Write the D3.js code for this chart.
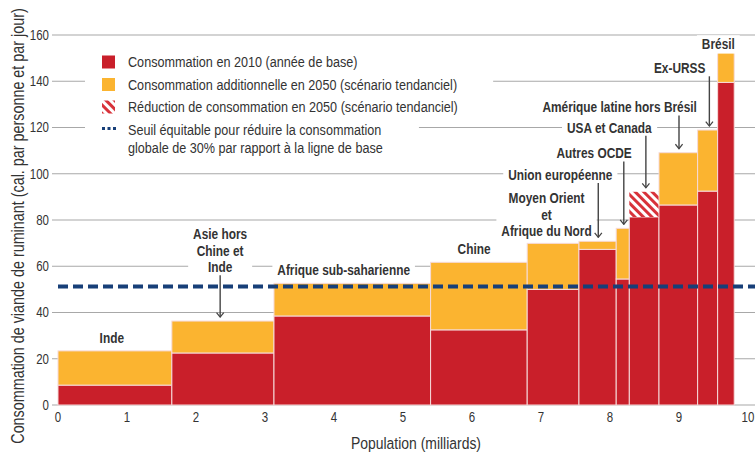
<!DOCTYPE html>
<html>
<head>
<meta charset="utf-8">
<script src="https://cdn.jsdelivr.net/npm/d3@7"></script>
<style>
  body { margin: 0; background: #fff; }
  svg { display: block; font-family: "Liberation Sans", Arial, sans-serif; }
</style>
</head>
<body>
<div id="chart"></div>
<script>
// data
const regions = ["Inde", "Asie hors Chine et Inde", "Afrique sub-saharienne", "Chine",
    "Moyen Orient et Afrique du Nord", "Union européenne", "Autres OCDE", "USA et Canada",
    "Amérique latine hors Brésil", "Ex-URSS", "Brésil"];
const population = [1.65, 1.48, 2.27, 1.40, 0.75, 0.54, 0.19, 0.43, 0.56, 0.29, 0.24];
const consumption2010 = [8.6, 22.5, 38.5, 32.5, 50, 67.3, 54.5, 92.2, 86.5, 92.5, 139.5];
const consumption2050 = [23.4, 36.3, 52.6, 61.7, 69.9, 70.8, 76.4, 81.3, 109.1, 118.9, 152.8];
const threshold = 51.2;
const yTicks = [0, 20, 40, 60, 80, 100, 120, 140, 160];
const xTicks = [0, 1, 2, 3, 4, 5, 6, 7, 8, 9, 10];

const legendItems = [
    { type: "base", text: ["Consommation en 2010 (année de base)"] },
    { type: "add", text: ["Consommation additionnelle en 2050 (scénario tendanciel)"] },
    { type: "cut", text: ["Réduction de consommation en 2050 (scénario tendanciel)"] },
    { type: "seuil", text: ["Seuil équitable pour réduire la consommation", "globale de 30% par rapport à la ligne de base"] }
];

// label placement (data units), arrow x when there is one
const labels = [
    { lines: ["Inde"], x: 0.78, y: 29 },
    { lines: ["Asie hors", "Chine et", "Inde"], x: 2.35, y: 73.8, arrow: 2.35, bar: 1 },
    { lines: ["Afrique sub-saharienne"], x: 4.14, y: 58.4 },
    { lines: ["Chine"], x: 6.03, y: 67.3 },
    { lines: ["Moyen Orient", "et", "Afrique du Nord"], x: 7.08, y: 89.4 },
    { lines: ["Union européenne"], x: 7.28, y: 99.5, arrow: 7.83, bar: 5 },
    { lines: ["Autres OCDE"], x: 7.77, y: 108.8, arrow: 8.2, bar: 6 },
    { lines: ["USA et Canada"], x: 7.99, y: 119.9, arrow: 8.52, bar: 7 },
    { lines: ["Amérique latine hors Brésil"], x: 8.14, y: 128.7, arrow: 9.0, bar: 8 },
    { lines: ["Ex-URSS"], x: 9.01, y: 145.6, arrow: 9.44, bar: 9 },
    { lines: ["Brésil"], x: 9.57, y: 156 }
];

const width = 755, height = 455;
const red = "#c91f2a", yellow = "#fbb430", navy = "#173f78", grid = "#a8a8a8", ink = "#333";
const narrow = 0.82; // no narrow font installed, squeeze horizontally

const x = d3.scaleLinear().domain([0, 10]).range([58, 748]);
const y = d3.scaleLinear().domain([0, 160]).range([405, 35]);

const squeeze = cx => `translate(${cx},0) scale(${narrow},1) translate(${-cx},0)`;

const ends = d3.cumsum(population);
const bars = regions.map((name, i) => ({
    name,
    x0: ends[i] - population[i],
    x1: ends[i],
    base: Math.min(consumption2010[i], consumption2050[i]),
    c2010: consumption2010[i],
    c2050: consumption2050[i]
}));

const svg = d3.select("#chart").append("svg")
    .attr("width", width)
    .attr("height", height);

const defs = svg.append("defs");
const hatch = defs.append("pattern")
    .attr("id", "hatch")
    .attr("patternUnits", "userSpaceOnUse")
    .attr("width", 6)
    .attr("height", 6)
    .attr("patternTransform", "rotate(-45)");
hatch.append("rect").attr("width", 6).attr("height", 6).attr("fill", "#fff");
hatch.append("rect").attr("width", 3).attr("height", 6).attr("fill", "#d8323a");

defs.append("marker")
    .attr("id", "head")
    .attr("viewBox", "0 0 10 10")
    .attr("refX", 5).attr("refY", 9)
    .attr("markerWidth", 9).attr("markerHeight", 9)
    .attr("markerUnits", "userSpaceOnUse")
    .attr("orient", "0")
    .append("path")
    .attr("d", "M1,4 L5,9 L9,4")
    .attr("fill", "none")
    .attr("stroke", "#444")
    .attr("stroke-width", 1.4);

// grid + y ticks
svg.append("g")
    .selectAll("line")
    .data(yTicks)
    .join("line")
    .attr("x1", 52).attr("x2", width)
    .attr("y1", d => y(d)).attr("y2", d => y(d))
    .attr("stroke", grid)
    .attr("stroke-width", 1.2);

svg.append("g")
    .attr("font-size", 14)
    .attr("fill", ink)
    .attr("text-anchor", "end")
    .selectAll("text")
    .data(yTicks)
    .join("text")
    .attr("x", 49)
    .attr("y", d => y(d))
    .attr("dy", "0.35em")
    .attr("transform", squeeze(49))
    .text(d => d);

svg.append("g")
    .attr("font-size", 14)
    .attr("fill", ink)
    .attr("text-anchor", "middle")
    .selectAll("text")
    .data(xTicks)
    .join("text")
    .attr("x", d => x(d))
    .attr("y", 422)
    .attr("transform", d => squeeze(x(d)))
    .text(d => d);

svg.append("text")
    .attr("x", 416)
    .attr("y", 449)
    .attr("text-anchor", "middle")
    .attr("font-size", 17)
    .attr("fill", ink)
    .attr("transform", squeeze(416))
    .text("Population (milliards)");

svg.append("text")
    .attr("transform", `translate(24,226) rotate(-90) scale(${narrow},1)`)
    .attr("text-anchor", "middle")
    .attr("font-size", 17.5)
    .attr("fill", ink)
    .text("Consommation de viande de ruminant (cal. par personne et par jour)");

// bars
const bar = svg.append("g")
    .attr("stroke", "#f6dada")
    .attr("stroke-width", 1)
    .selectAll("g")
    .data(bars)
    .join("g");

bar.append("rect")
    .attr("x", d => x(d.x0))
    .attr("width", d => x(d.x1) - x(d.x0))
    .attr("y", d => y(d.base))
    .attr("height", d => y(0) - y(d.base))
    .attr("fill", red);

bar.filter(d => d.c2050 > d.c2010).append("rect")
    .attr("x", d => x(d.x0))
    .attr("width", d => x(d.x1) - x(d.x0))
    .attr("y", d => y(d.c2050))
    .attr("height", d => y(d.c2010) - y(d.c2050))
    .attr("fill", yellow);

bar.filter(d => d.c2050 < d.c2010).append("rect")
    .attr("x", d => x(d.x0))
    .attr("width", d => x(d.x1) - x(d.x0))
    .attr("y", d => y(d.c2010))
    .attr("height", d => y(d.c2050) - y(d.c2010))
    .attr("fill", "url(#hatch)")
    .attr("stroke", "none");

// threshold
svg.append("line")
    .attr("x1", x(0)).attr("x2", width)
    .attr("y1", y(threshold)).attr("y2", y(threshold))
    .attr("stroke", navy)
    .attr("stroke-width", 4)
    .attr("stroke-dasharray", "10,5");

// region labels
const label = svg.append("g")
    .selectAll("g")
    .data(labels)
    .join("g")
    .attr("transform", d => squeeze(x(d.x)));

label.append("rect").attr("fill", "#fff");

label.append("text")
    .attr("font-size", 14.5)
    .attr("font-weight", "bold")
    .attr("fill", ink)
    .attr("text-anchor", "middle")
    .selectAll("tspan")
    .data(d => d.lines.map((t, i) => ({ t, i, d })))
    .join("tspan")
    .attr("x", l => x(l.d.x))
    .attr("y", l => y(l.d.y) + l.i * 16.4)
    .attr("dy", "0.35em")
    .text(l => l.t);

label.each(function() {
    const g = d3.select(this);
    const b = g.select("text").node().getBBox();
    g.select("rect")
        .attr("x", b.x - 6).attr("y", b.y - 1)
        .attr("width", b.width + 12).attr("height", b.height + 2);
});

svg.append("g")
    .selectAll("line")
    .data(labels.filter(d => d.arrow !== undefined))
    .join("line")
    .attr("x1", d => x(d.arrow)).attr("x2", d => x(d.arrow))
    .attr("y1", d => y(d.y) + (d.lines.length - 1) * 16.4 + 8)
    .attr("y2", d => y(Math.max(consumption2010[d.bar], consumption2050[d.bar])) - 4)
    .attr("stroke", "#444")
    .attr("stroke-width", 1.4)
    .attr("marker-end", "url(#head)");

// legend
const legend = svg.append("g")
    .selectAll("g")
    .data(legendItems)
    .join("g")
    .attr("transform", (d, i) => `translate(102,${62 + i * 22.5})`);

legend.append("rect").attr("class", "bg").attr("fill", "#fff");

legend.filter(d => d.type === "base" || d.type === "add").append("rect")
    .attr("y", -6.5).attr("width", 13).attr("height", 13)
    .attr("fill", d => d.type === "base" ? red : yellow);

legend.filter(d => d.type === "cut").append("rect")
    .attr("y", -6.5).attr("width", 13).attr("height", 13)
    .attr("fill", "url(#hatch)");

legend.filter(d => d.type === "seuil").append("line")
    .attr("x1", 0).attr("x2", 14)
    .attr("y1", -1).attr("y2", -1)
    .attr("stroke", navy)
    .attr("stroke-width", 3)
    .attr("stroke-dasharray", "3,2.5");

legend.append("text")
    .attr("font-size", 15.4)
    .attr("fill", ink)
    .attr("transform", squeeze(26))
    .selectAll("tspan")
    .data(d => d.text.map((t, i) => ({ t, i })))
    .join("tspan")
    .attr("x", 26)
    .attr("y", l => l.i * 18)
    .attr("dy", "0.35em")
    .text(l => l.t);

legend.each(function() {
    const g = d3.select(this);
    const b = g.select("text").node().getBBox();
    g.select("rect.bg")
        .attr("x", -17).attr("y", -10)
        .attr("width", 17 + 26 + b.width * narrow + 36).attr("height", 20);
});
</script>
</body>
</html>
